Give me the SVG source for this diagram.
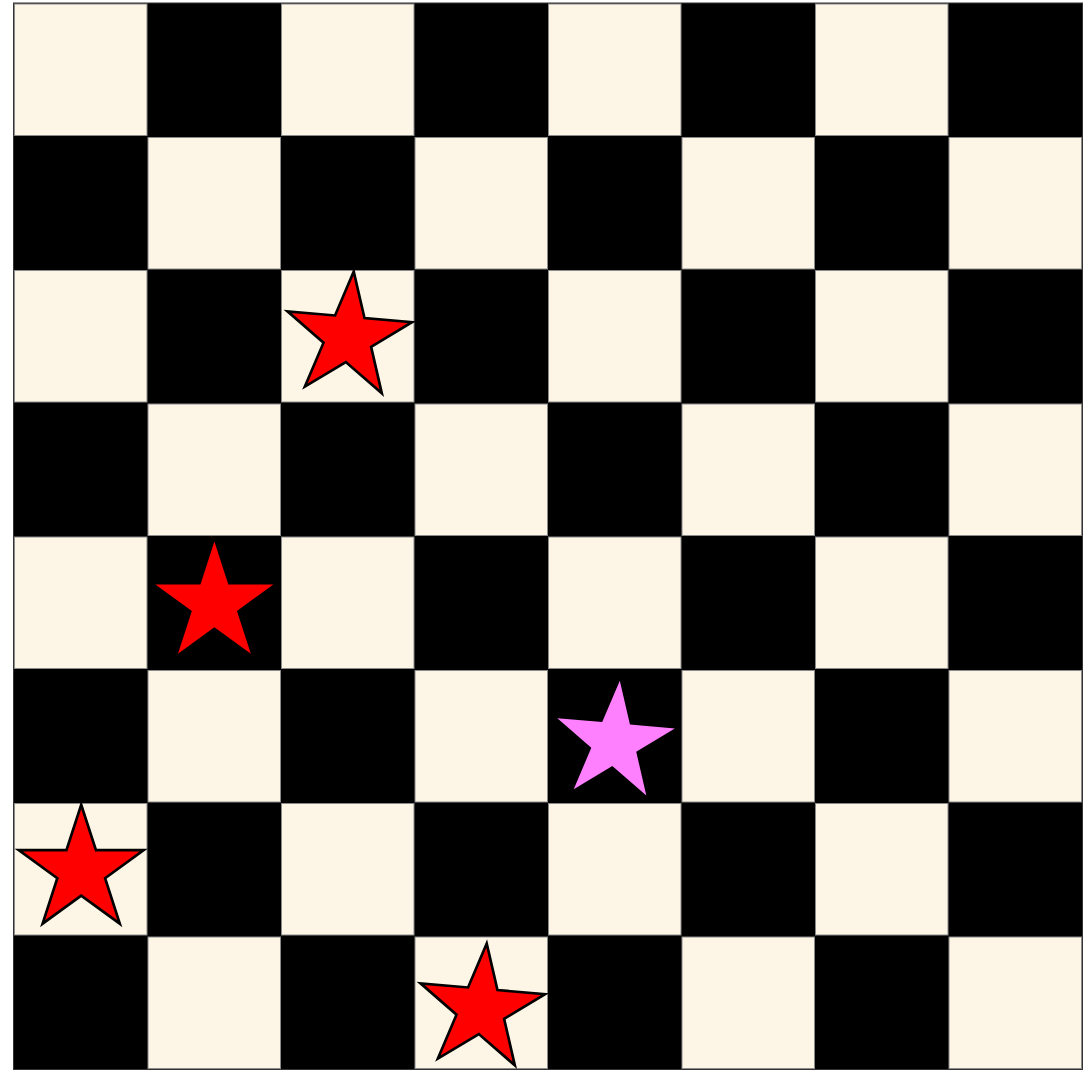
<svg xmlns="http://www.w3.org/2000/svg" width="1085" height="1070" viewBox="0 0 1085 1070">
<style>
.light{fill:#fdf5e6;stroke:#8a8a8a;stroke-width:1}
.red{fill:#ff0000}
.stroked{stroke:#000;stroke-width:2.5;stroke-linejoin:miter}
.pink{fill:#ff80ff}
</style>
<defs>
<path id="star" d="M0,-62 L13.93,-19.17 L58.97,-19.16 L22.54,7.32 L36.44,50.16 L0,23.7 L-36.44,50.16 L-22.54,7.32 L-58.97,-19.16 L-13.93,-19.17 Z"/>
</defs>
<rect width="1085" height="1070" fill="#ffffff"/>
<g id="board">
<rect x="13.5" y="3" width="1069" height="1066.5" fill="#000" stroke="#333" stroke-width="1"/>
<rect class="light" x="14.5" y="4" width="132.5" height="131.5"/>
<rect class="light" x="281.5" y="4" width="132.5" height="131.5"/>
<rect class="light" x="548.5" y="4" width="132.5" height="131.5"/>
<rect class="light" x="815.5" y="4" width="132.5" height="131.5"/>
<rect class="light" x="148" y="137.5" width="132.5" height="131.5"/>
<rect class="light" x="415" y="137.5" width="132.5" height="131.5"/>
<rect class="light" x="682" y="137.5" width="132.5" height="131.5"/>
<rect class="light" x="949" y="137.5" width="132.5" height="131.5"/>
<rect class="light" x="14.5" y="270.5" width="132.5" height="131.5"/>
<rect class="light" x="281.5" y="270.5" width="132.5" height="131.5"/>
<rect class="light" x="548.5" y="270.5" width="132.5" height="131.5"/>
<rect class="light" x="815.5" y="270.5" width="132.5" height="131.5"/>
<rect class="light" x="148" y="404" width="132.5" height="131.5"/>
<rect class="light" x="415" y="404" width="132.5" height="131.5"/>
<rect class="light" x="682" y="404" width="132.5" height="131.5"/>
<rect class="light" x="949" y="404" width="132.5" height="131.5"/>
<rect class="light" x="14.5" y="537" width="132.5" height="131.5"/>
<rect class="light" x="281.5" y="537" width="132.5" height="131.5"/>
<rect class="light" x="548.5" y="537" width="132.5" height="131.5"/>
<rect class="light" x="815.5" y="537" width="132.5" height="131.5"/>
<rect class="light" x="148" y="670.5" width="132.5" height="131.5"/>
<rect class="light" x="415" y="670.5" width="132.5" height="131.5"/>
<rect class="light" x="682" y="670.5" width="132.5" height="131.5"/>
<rect class="light" x="949" y="670.5" width="132.5" height="131.5"/>
<rect class="light" x="14.5" y="803.5" width="132.5" height="131.5"/>
<rect class="light" x="281.5" y="803.5" width="132.5" height="131.5"/>
<rect class="light" x="548.5" y="803.5" width="132.5" height="131.5"/>
<rect class="light" x="815.5" y="803.5" width="132.5" height="131.5"/>
<rect class="light" x="148" y="937" width="132.5" height="131.5"/>
<rect class="light" x="415" y="937" width="132.5" height="131.5"/>
<rect class="light" x="682" y="937" width="132.5" height="131.5"/>
<rect class="light" x="949" y="937" width="132.5" height="131.5"/>
</g>
<g id="connectors"></g>
<g id="star-c3-r3"><use href="#star" class="red stroked" transform="translate(348,337) rotate(5) scale(1.06)"/></g>
<g id="star-c2-r5"><use href="#star" class="red" transform="translate(214.4,603.6)"/></g>
<g id="star-c5-r6"><use href="#star" class="pink" transform="translate(614.4,742.4) rotate(5)"/></g>
<g id="star-c1-r7"><use href="#star" class="red stroked" transform="translate(81.2,870.5) scale(1.06)"/></g>
<g id="star-c4-r8"><use href="#star" class="red stroked" transform="translate(481,1009) rotate(5) scale(1.06)"/></g>
</svg>
